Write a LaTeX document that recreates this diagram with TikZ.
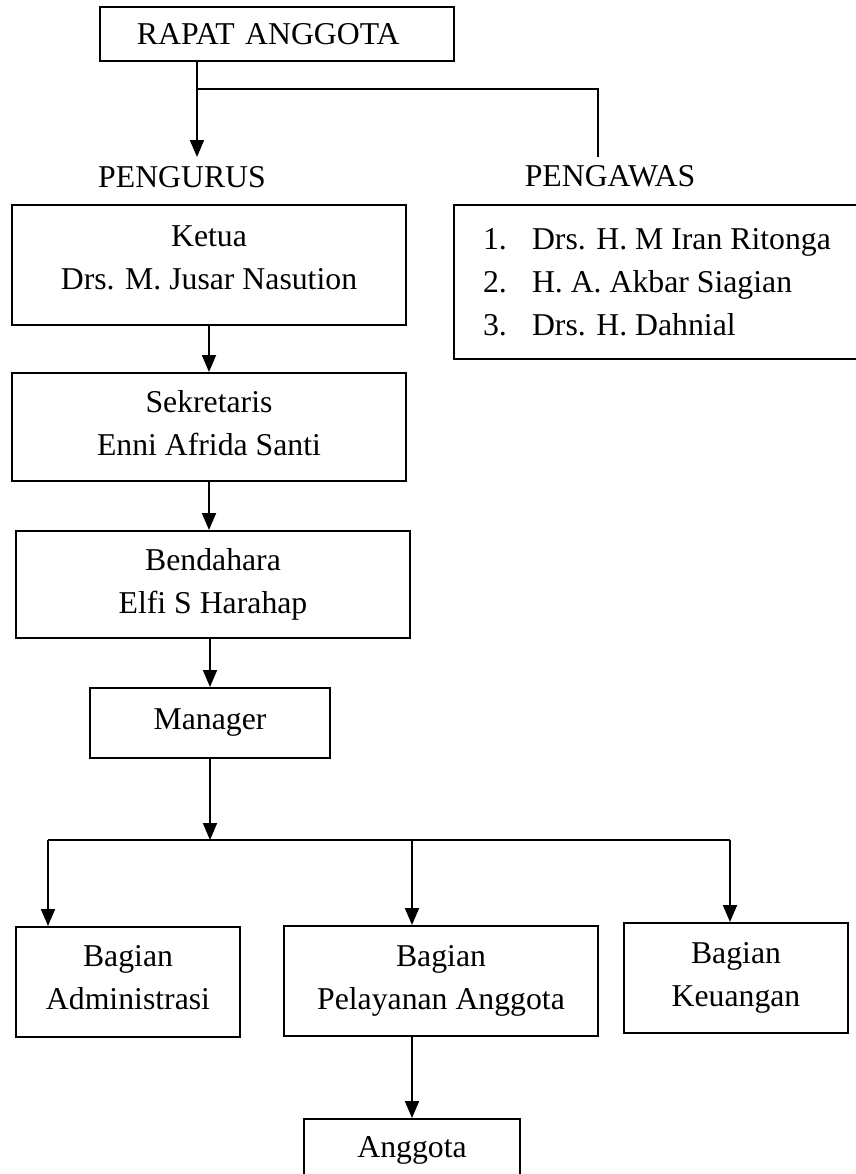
\documentclass[tikz,border=0pt]{standalone}
\usepackage{fontspec}
\setmainfont{Liberation Serif}
\usepackage{tikz}
\usetikzlibrary{arrows.meta,calc}
\newcommand{\nomor}[1]{\makebox[19.6pt][l]{#1}}

\begin{document}
\begin{tikzpicture}[
  x=0.4pt, y=-0.4pt,
  every node/.style={font=\fontsize{12.7}{17.2}\selectfont},
  orgbox/.style={
    draw, line width=0.8pt, inner sep=0pt, align=center,
  },
  arrow/.style={-{Triangle[length=6.8pt,width=5.6pt]}, line width=0.8pt},
  busline/.style={line width=0.8pt},
  thinline/.style={line width=0.5pt},
]
  \useasboundingbox (0,0) rectangle (855,1174);

  \node[orgbox, minimum width=141.6pt, minimum height=21.6pt, inner xsep=14.8pt, text width=112pt, align=left] (rapat) at (277,34) {RAPAT ANGGOTA};
  \node[anchor=base] (lblpengurus) at (182,187) {PENGURUS};
  \node[anchor=base] (lblpengawas) at (610,186) {PENGAWAS};

  \node[orgbox, minimum width=157.6pt, minimum height=48pt, text depth=6pt] (ketua) at (209,265) {Ketua\\Drs. M. Jusar Nasution};
  \node[orgbox, minimum width=157.6pt, minimum height=43.2pt, text depth=3.5pt] (sekretaris) at (209,427) {Sekretaris\\Enni Afrida Santi};
  \node[orgbox, minimum width=157.6pt, minimum height=42.8pt] (bendahara) at (213,584.5) {Bendahara\\Elfi S Harahap};
  \node[orgbox, minimum width=96pt, minimum height=28pt] (manager) at (210,723) {Manager};

  \node[orgbox, minimum width=162.4pt, minimum height=61.6pt, align=left] (pengawas) at (657,282)
    {\nomor{1.}Drs. H. M Iran Ritonga\\\nomor{2.}H. A. Akbar Siagian\\\nomor{3.}Drs. H. Dahnial};

  \node[orgbox, minimum width=89.6pt, minimum height=44pt, text depth=3.5pt] (adm) at (128,982) {Bagian\\Administrasi};
  \node[orgbox, minimum width=125.6pt, minimum height=44pt] (pel) at (441,981) {Bagian\\Pelayanan Anggota};
  \node[orgbox, minimum width=89.6pt, minimum height=44pt] (keu) at (736,978) {Bagian\\Keuangan};
  \node[orgbox, minimum width=86.4pt, minimum height=24.8pt] (anggota) at (412,1150) {Anggota};

  \coordinate (cabang) at (197,89);
  \coordinate (pengurustip) at (197,157);
  \coordinate (pengawastop) at (598,157);
  \coordinate (busL) at (48,840);
  \coordinate (busP) at (412,840);
  \coordinate (busR) at (730,840);

  \draw[arrow] (rapat.south -| pengurustip) -- (pengurustip);
  \draw[thinline] (cabang) -| (pengawastop);

  \draw[arrow] (ketua.south -| sekretaris.north) -- (sekretaris.north);
  \draw[arrow] (sekretaris.south) -- (sekretaris.south |- bendahara.north);
  \draw[arrow] (bendahara.south -| manager.north) -- (manager.north);
  \draw[arrow] (manager.south) -- (manager.south |- busL);
  \draw[busline] (busL) -- (busR);
  \draw[arrow] (busL) -- (busL |- adm.north);
  \draw[arrow] (busP) -- (busP |- pel.north);
  \draw[arrow] (busR) -- (busR |- keu.north);
  \draw[arrow] (pel.south -| anggota.north) -- (anggota.north);
\end{tikzpicture}
\end{document}
